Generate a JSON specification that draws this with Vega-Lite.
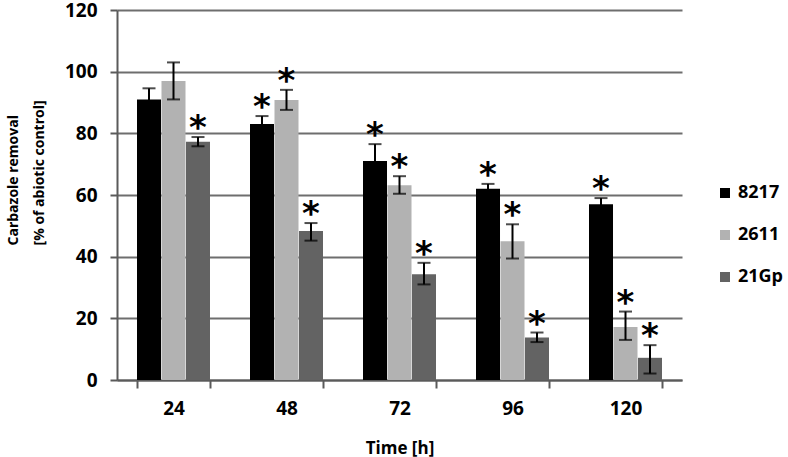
{
  "$schema": "https://vega.github.io/schema/vega-lite/v6.json",
  "width": 565,
  "height": 370,
  "autosize": "none",
  "padding": {"left": 117, "top": 10, "right": 106, "bottom": 77},
  "background": "white",
  "config": {"view": {"stroke": null}, "font": "Open Sans"},
  "data": {
    "values": [
      {"time": 24, "strain": "8217", "mean": 91, "lo": 87.4, "hi": 94.6, "sig": ""},
      {"time": 24, "strain": "2611", "mean": 97, "lo": 91, "hi": 103, "sig": ""},
      {"time": 24, "strain": "21Gp", "mean": 77.3, "lo": 75.8, "hi": 78.8, "sig": "*"},
      {"time": 48, "strain": "8217", "mean": 83, "lo": 80.3, "hi": 85.6, "sig": "*"},
      {"time": 48, "strain": "2611", "mean": 90.8, "lo": 87.6, "hi": 94.1, "sig": "*"},
      {"time": 48, "strain": "21Gp", "mean": 48.3, "lo": 45.2, "hi": 50.9, "sig": "*"},
      {"time": 72, "strain": "8217", "mean": 71, "lo": 65.4, "hi": 76.5, "sig": "*"},
      {"time": 72, "strain": "2611", "mean": 63.2, "lo": 60.4, "hi": 66.1, "sig": "*"},
      {"time": 72, "strain": "21Gp", "mean": 34.3, "lo": 31, "hi": 38, "sig": "*"},
      {"time": 96, "strain": "8217", "mean": 62, "lo": 60.4, "hi": 63.6, "sig": "*"},
      {"time": 96, "strain": "2611", "mean": 45, "lo": 39.4, "hi": 50.5, "sig": "*"},
      {"time": 96, "strain": "21Gp", "mean": 13.8, "lo": 12.3, "hi": 15.4, "sig": "*"},
      {"time": 120, "strain": "8217", "mean": 57, "lo": 55, "hi": 59, "sig": "*"},
      {"time": 120, "strain": "2611", "mean": 17.2, "lo": 13, "hi": 22.2, "sig": "*"},
      {"time": 120, "strain": "21Gp", "mean": 7.2, "lo": 2.1, "hi": 11.3, "sig": "*"}
    ]
  },
  "encoding": {
    "x": {
      "field": "time",
      "type": "ordinal",
      "scale": {"paddingInner": 0.354, "paddingOuter": 0.177},
      "axis": {
        "title": "Time [h]",
        "labelAngle": 0,
        "tickBand": "extent",
        "domainColor": "#5a5a5a",
        "domainWidth": 2,
        "tickColor": "#5a5a5a",
        "tickWidth": 2,
        "tickSize": 8,
        "labelFontSize": 19,
        "labelFontWeight": "bold",
        "labelColor": "#000000",
        "labelPadding": 11,
        "titleFontSize": 17,
        "titleFontWeight": "bold",
        "titleColor": "#000000",
        "titleBaseline": "alphabetic",
        "titleY": 73
      }
    },
    "xOffset": {
      "field": "strain",
      "type": "nominal",
      "sort": ["8217", "2611", "21Gp"],
      "scale": {"paddingInner": 0.02}
    }
  },
  "layer": [
    {
      "mark": {"type": "bar"},
      "encoding": {
        "y": {
          "field": "mean",
          "type": "quantitative",
          "scale": {"domain": [0, 120]},
          "axis": {
            "values": [0, 20, 40, 60, 80, 100, 120],
            "grid": true,
            "gridColor": "#6e6e6e",
            "gridWidth": 2,
            "domainColor": "#5a5a5a",
            "domainWidth": 2,
            "tickColor": "#5a5a5a",
            "tickWidth": 2,
            "tickSize": 7,
            "labelFontSize": 19,
            "labelFontWeight": "bold",
            "labelColor": "#000000",
            "labelPadding": 13,
            "title": ["Carbazole  removal", "[% of abiotic control]"],
            "titleFontSize": 14,
            "titleFontWeight": "bold",
            "titleColor": "#000000",
            "titleAngle": -90,
            "titleAlign": "left",
            "titleBaseline": "alphabetic",
            "titleLineHeight": 26,
            "titleX": -100,
            "titleY": 235
          }
        },
        "color": {
          "field": "strain",
          "type": "nominal",
          "sort": ["8217", "2611", "21Gp"],
          "scale": {"domain": ["8217", "2611", "21Gp"], "range": ["#000000", "#b2b2b2", "#636363"]},
          "legend": {
            "title": null,
            "orient": "none",
            "legendX": 599,
            "legendY": 174,
            "symbolType": "square",
            "symbolSize": 100,
            "symbolStrokeWidth": 0,
            "labelFontSize": 18,
            "labelFontWeight": "bold",
            "labelColor": "#000000",
            "rowPadding": 24,
            "labelOffset": 4
          }
        }
      }
    },
    {
      "mark": {"type": "rule", "color": "#000000", "strokeWidth": 2},
      "encoding": {
        "y": {"field": "lo", "type": "quantitative"},
        "y2": {"field": "hi"}
      }
    },
    {
      "mark": {"type": "tick", "color": "#000000", "thickness": 2, "size": 13, "orient": "horizontal"},
      "encoding": {"y": {"field": "lo", "type": "quantitative"}}
    },
    {
      "mark": {"type": "tick", "color": "#000000", "thickness": 2, "size": 13, "orient": "horizontal"},
      "encoding": {"y": {"field": "hi", "type": "quantitative"}}
    },
    {
      "mark": {"type": "text", "fontSize": 34, "fontWeight": "bold", "baseline": "alphabetic", "dy": 2, "color": "#000000", "font": "DejaVu Sans"},
      "encoding": {
        "y": {"field": "hi", "type": "quantitative"},
        "text": {"field": "sig"}
      }
    }
  ]
}
